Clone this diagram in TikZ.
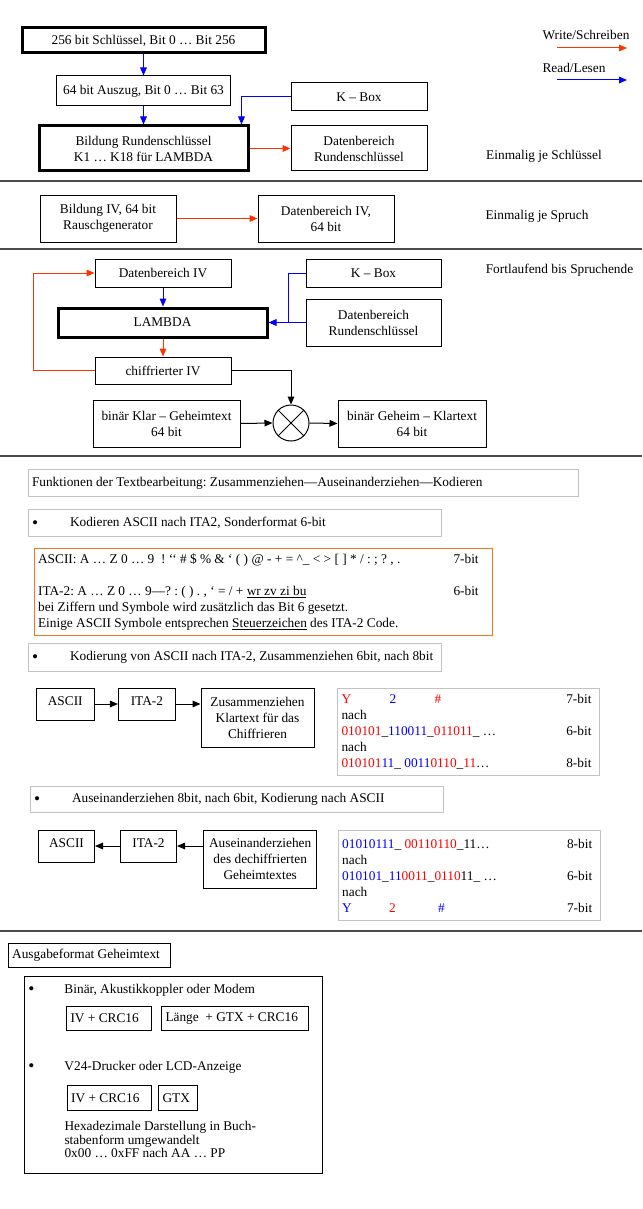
\documentclass[tikz,border=0pt]{standalone}
\usepackage{fontspec}
\setmainfont{Liberation Serif}
\usetikzlibrary{arrows.meta}
\newdimen\pxu \pxu=0.75pt
\newcommand{\bigdot}{\raisebox{-1.3pt}{\fontsize{13}{12}\selectfont\textbullet}}
\definecolor{wrcol}{RGB}{255,51,0}
\definecolor{rdcol}{RGB}{0,0,255}
\definecolor{lightedge}{RGB}{195,195,195}
\definecolor{oredge}{RGB}{236,120,40}
\begin{document}
\begin{tikzpicture}[x=0.75pt,y=-0.75pt,line width=0.75pt,font=\fontsize{10}{12}\selectfont\frenchspacing,
        box/.style 2 args={draw,inner sep=1pt,align=flush center,minimum width=#1\pxu,minimum height=#2\pxu},
        heavy/.style={line width=2.25pt},
        lbox/.style 2 args={draw,anchor=north west,inner xsep=4\pxu,inner ysep=1pt,align=flush left,text width=#1\pxu,minimum height=#2\pxu},
        toptext/.style={text depth=6\pxu},
        wr/.style={draw=wrcol,-{Triangle[length=6pt,width=5pt]}},
        rd/.style={draw=rdcol,-{Triangle[length=6pt,width=5pt]}},
        rdline/.style={draw=rdcol},
        bk/.style={-{Triangle[length=6pt,width=5pt]}},
        divider/.style={draw=black!70,line width=1pt}]
        \useasboundingbox (0,0) rectangle (642,1209);

        \node[box={243}{25},heavy] (keyin) at (143.5,40.5) {256 bit Schlüssel, Bit 0 … Bit 256};
        \node[box={174}{30}] (auszug) at (143.5,91) {64 bit Auszug, Bit 0 … Bit 63};
        \node[box={136}{28}] (kbox) at (359,97) {K – Box};
        \node[box={209}{45},heavy] (rkey) at (143.5,148.5) {Bildung Rundenschlüssel\\K1 … K18 für LAMBDA};
        \node[box={136}{45}] (rdata) at (359,148.5) {Datenbereich\\Rundenschlüssel};
        \draw[rd] (keyin.south) -- (auszug.north);
        \draw[rd] (auszug.south) -- (rkey.north);
        \draw[rd] (kbox.west) -| ([xshift=-8\pxu]rkey.north east);
        \draw[wr] (rkey.east) -- (rdata.west);
        \node (once1) at (544,156) {Einmalig je Schlüssel};

        \node (wrlab) at (586,35) {Write/Schreiben};
        \coordinate (wrA) at (557,48);
        \coordinate (wrB) at (627,48);
        \draw[wr] (wrA) -- (wrB);
        \node (rdlab) at (574,68) {Read/Lesen};
        \coordinate (rdA) at (557,80);
        \coordinate (rdB) at (627,80);
        \draw[rd] (rdA) -- (rdB);

        \draw[divider] (0,181) -- (642,181);

        \node[box={136}{47}] (ivgen) at (108,218.5) {Bildung IV, 64 bit\\Rauschgenerator};
        \node[box={136}{47}] (ivdata) at (326,218.5) {Datenbereich IV,\\64 bit};
        \draw[wr] (ivgen.east) -- (ivdata.west);
        \node (once2) at (537,216) {Einmalig je Spruch};

        \draw[divider] (0,249) -- (642,249);

        \node[box={136}{28}] (ivbuf) at (163,273) {Datenbereich IV};
        \node[box={135}{28}] (kboxb) at (373.5,273) {K – Box};
        \node[box={135}{47}] (rdatab) at (373.5,322.5) {Datenbereich\\Rundenschlüssel};
        \node[box={209}{29},heavy] (lambda) at (162.5,322.5) {LAMBDA};
        \node[box={136}{27}] (chiv) at (163,370.5) {chiffrierter IV};
        \node[draw,circle,minimum size=36\pxu,inner sep=0] (xor) at (291,423) {};
        \draw (xor.north west) -- (xor.south east) (xor.north east) -- (xor.south west);
        \node[box={147}{47}] (klar) at (166.5,423.5) {binär Klar – Geheimtext\\64 bit};
        \node[box={148}{47}] (geheim) at (412,423.5) {binär Geheim – Klartext\\64 bit};
        \draw[rd] (ivbuf.south) -- (ivbuf.south |- lambda.north);
        \draw[rdline] (kboxb.west) -| ([xshift=20\pxu]lambda.east);
        \draw[rd] (rdatab.west) -- (lambda.east);
        \draw[wr] (lambda.south -| chiv.north) -- (chiv.north);
        \draw[wr] (chiv.west) -- ++(-61,0) |- (ivbuf.west);
        \draw[bk] (chiv.east) -| (xor.north);
        \draw[bk] (klar.east) -- (xor.west);
        \draw[bk] (xor.east) -- (geheim.west);
        \node (running) at (559.5,270) {Fortlaufend bis Spruchende};

        \draw[divider] (0,456) -- (642,456);

        \node[lbox={542.5}{27},draw=lightedge] (func) at (27.5,469) {\mbox{Funktionen der Textbearbeitung: Zusammenziehen—Auseinanderziehen—Kodieren}};
        \node[lbox={405}{27},draw=lightedge] (bullA) at (27.5,509) {\mbox{\makebox[38\pxu][l]{\bigdot}Kodieren ASCII nach ITA2, Sonderformat 6-bit}};
        \node[lbox={450.4}{87},draw=oredge] (encode) at (33.6,548) {ASCII: A … Z 0 … 9 \ ! ‘‘ \# \$ \% \& ‘ ( ) @ - + = \textasciicircum\_ < > [ ] * / : ; ? , .\hfill\makebox[35\pxu][l]{7-bit}\\[12pt]
ITA-2: A … Z 0 … 9—? : ( ) . , ‘ = / + \underline{wr zv zi bu}\hfill\makebox[35\pxu][l]{6-bit}\\
bei Ziffern und Symbole wird zusätzlich das Bit 6 gesetzt.\\
Einige ASCII Symbole entsprechen \underline{Steuerzeichen} des ITA-2 Code.};

        \node[lbox={405}{28},draw=lightedge] (bullB) at (27.5,643) {\mbox{\makebox[38\pxu][l]{\bigdot}Kodierung von ASCII nach ITA-2, Zusammenziehen 6bit, nach 8bit}};
        \node[box={57.5}{32},toptext] (asciiA) at (65.25,704) {ASCII};
        \node[box={57}{32},toptext] (itaA) at (146.9,704) {ITA-2};
        \node[box={113}{59}] (zus) at (257.5,717.5) {Zusammenziehen\\Klartext für das\\Chiffrieren};
        \draw[bk] (asciiA.east) -- (itaA.west);
        \draw[bk] (itaA.east) -- (itaA.east -| zus.west);
        \node[lbox={254}{87},draw=lightedge] (encbits) at (337,688) {\makebox[48\pxu][l]{\textcolor{red}{Y}}\makebox[45\pxu][l]{\textcolor{blue}{2}}\textcolor{red}{\#}\hfill 7-bit\kern4\pxu\\
nach\\
\textcolor{red}{010101}\_\textcolor{blue}{110011}\_\textcolor{red}{011011}\_ …\hfill 6-bit\kern4\pxu\\
nach\\
\textcolor{red}{010101}\textcolor{blue}{11}\_ \textcolor{blue}{0011}\textcolor{red}{0110}\_\textcolor{red}{11}…\hfill 8-bit\kern4\pxu};

        \node[lbox={405}{26},draw=lightedge] (bullC) at (29.5,786) {\mbox{\makebox[38\pxu][l]{\bigdot}Auseinanderziehen 8bit, nach 6bit, Kodierung nach ASCII}};
        \node[box={56}{32},toptext] (asciiB) at (66.5,846) {ASCII};
        \node[box={56}{32},toptext] (itaB) at (148.5,846) {ITA-2};
        \node[box={113}{58}] (ausein) at (260.2,859) {Auseinanderziehen\\des dechiffrierten\\Geheimtextes};
        \draw[bk] (itaB.west) -- (asciiB.east);
        \draw[bk] (ausein.west |- itaB.east) -- (itaB.east);
        \node[lbox={254}{90},draw=lightedge] (decbits) at (337.7,830) {\textcolor{blue}{01010111}\_ \textcolor{red}{00110110}\_11…\hfill 8-bit\kern4\pxu\\
nach\\
\textcolor{blue}{010101}\_\textcolor{blue}{11}\textcolor{red}{0011}\_\textcolor{red}{0110}11\_ …\hfill 6-bit\kern4\pxu\\
nach\\
\makebox[47\pxu][l]{\textcolor{blue}{Y}}\makebox[49\pxu][l]{\textcolor{red}{2}}\textcolor{blue}{\#}\hfill 7-bit\kern4\pxu};

        \draw[divider] (0,931) -- (642,931);

        \node[lbox={154.3}{24}] (ausgabe) at (7.7,943) {Ausgabeformat Geheimtext};
        \draw (24.3,976) rectangle (322.3,1173);
        \node[anchor=west,inner sep=0] (bulbin) at (28,990) {\makebox[36\pxu][l]{\bigdot}Binär, Akustikkoppler oder Modem};
        \node[lbox={76.7}{24}] (crcA) at (66,1006) {IV + CRC16};
        \node[lbox={139}{24}] (lenbox) at (161,1006) {Länge \ + GTX + CRC16};
        \node[anchor=west,inner sep=0] (bulv24) at (28,1067) {\makebox[36\pxu][l]{\bigdot}V24-Drucker oder LCD-Anzeige};
        \node[lbox={76}{25}] (crcB) at (66.7,1085) {IV + CRC16};
        \node[lbox={30.7}{25}] (gtx) at (158,1085) {GTX};
        \node[anchor=north west,inner sep=0,align=flush left,font=\fontsize{10}{8.5}\selectfont] (hexnote) at (64,1121) {Hexadezimale Darstellung in Buch-\\stabenform umgewandelt\\0x00 … 0xFF nach AA … PP};
\end{tikzpicture}
\end{document}
